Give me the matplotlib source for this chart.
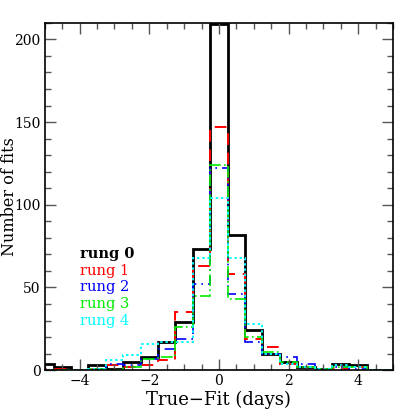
import numpy as np
import matplotlib
matplotlib.use("Agg")
import matplotlib.pyplot as plt
from matplotlib.ticker import MultipleLocator, FuncFormatter

# bin centres every 0.5 day, from -5 to 5
centers = np.arange(-5, 5.01, 0.5)

rung0 = [4, 2, 0, 3, 1, 5, 8, 17, 29, 73, 209, 82, 24, 10, 5, 2, 1, 4, 3, 0, 0]
rung1 = [1, 1, 0, 1, 3, 2, 3, 6, 35, 63, 147, 58, 19, 14, 4, 2, 1, 1, 2, 0, 0]
rung2 = [0, 0, 0, 1, 4, 3, 7, 13, 19, 52, 122, 46, 17, 10, 8, 4, 0, 2, 1, 0, 0]
rung3 = [0, 0, 0, 1, 0, 2, 7, 8, 26, 45, 124, 43, 20, 11, 5, 2, 1, 2, 2, 0, 0]
rung4 = [0, 0, 0, 1, 6, 9, 16, 17, 17, 68, 104, 68, 28, 10, 4, 2, 1, 3, 2, 0, 0]

labels = ["rung 0", "rung 1", "rung 2", "rung 3", "rung 4"]
colors = ["black", "red", "blue", "#00ee00", "cyan"]
styles = ["-", (0, (6, 4)), (0, (6, 3, 1, 3)), (0, (7, 2, 1, 2)), (0, (1.2, 1.5))]
widths = [2.0, 1.4, 1.2, 1.2, 1.4]

edges = np.append(centers - 0.25, centers[-1] + 0.25)

plt.rcParams["font.family"] = ["DejaVu Serif"]

fig = plt.figure(figsize=(4.15, 4.15), dpi=100)
ax = fig.add_axes([0.108, 0.108, 0.839, 0.837])

for vals, c, ls, lw in zip([rung0, rung1, rung2, rung3, rung4], colors, styles, widths):
    ax.stairs(vals, edges, color=c, linestyle=ls, linewidth=lw, baseline=0)

ax.set_xlim(-5, 5)
ax.set_ylim(0, 210)

ax.xaxis.set_major_locator(MultipleLocator(2))
ax.xaxis.set_minor_locator(MultipleLocator(0.5))
ax.yaxis.set_major_locator(MultipleLocator(50))
ax.yaxis.set_minor_locator(MultipleLocator(10))
ax.tick_params(which="both", direction="in", top=True, right=True, labelsize=10, color="#555555")
ax.tick_params(which="major", length=8, width=1, pad=3)
ax.tick_params(which="minor", length=4, width=1)
ax.xaxis.set_major_formatter(FuncFormatter(lambda v, p: f"{v:g}".replace("-", "\u2212")))
for s in ax.spines.values():
    s.set_linewidth(1.2)

ax.set_xlabel("True\u2212Fit (days)", fontsize=13, labelpad=2)
ax.set_ylabel("Number of fits", fontsize=11.5)
ax.yaxis.set_label_coords(-0.078, 0.5)

for i, (lab, c) in enumerate(zip(labels, colors)):
    ax.text(-4.0, 70 - 10 * i, lab, color=c, fontsize=10.5, va="center",
            fontweight="bold" if i == 0 else "normal")

fig.savefig("out.png", dpi=100)
